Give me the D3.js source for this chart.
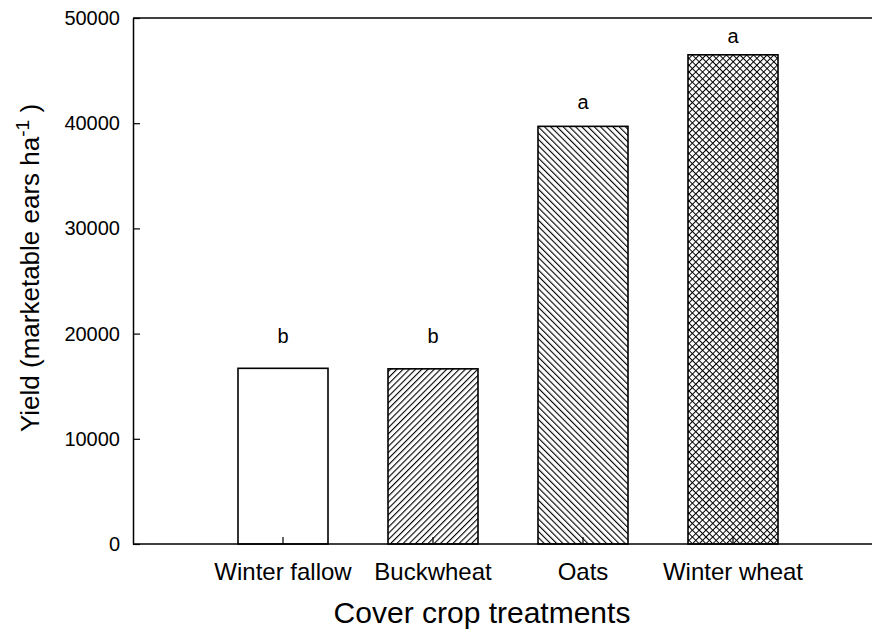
<!DOCTYPE html>
<html>
<head>
<meta charset="utf-8">
<script src="https://cdn.jsdelivr.net/npm/d3@7"></script>
<style>
  body { margin: 0; background: #fff; }
  svg text { font-family: "Liberation Sans", Arial, sans-serif; fill: #000; }
</style>
</head>
<body>
<div id="chart"></div>
<script>
// data
var categories = ['Winter fallow', 'Buckwheat', 'Oats', 'Winter wheat'];
var yieldValues = [16700, 16650, 39700, 46500];
var letters = ['b', 'b', 'a', 'a'];
var letterAt = [19100, 19100, 41350, 47650]; // baseline of the letter, in yield units
var fills = ['none', 'fwd', 'back', 'cross'];
var yTicks = [0, 10000, 20000, 30000, 40000, 50000];

var W = 872, H = 634;
var plotL = 133, plotT = 18, plotB = 544, plotR = 872;

var svg = d3.select('#chart').append('svg')
  .attr('width', W).attr('height', H);

// hatch patterns
var defs = svg.append('defs');
function hatch(id, angle) {
  var s = 4.4;
  var p = defs.append('pattern')
    .attr('id', id)
    .attr('patternUnits', 'userSpaceOnUse')
    .attr('width', s).attr('height', s)
    .attr('patternTransform', 'rotate(' + angle + ')');
  p.append('rect').attr('width', s).attr('height', s).attr('fill', '#fff');
  p.append('line')
    .attr('x1', 0).attr('y1', 0).attr('x2', 0).attr('y2', s)
    .attr('stroke', '#000').attr('stroke-width', 2.2);
}
hatch('fwd', 45);
hatch('back', -45);
var cs = 4.8;
var cp = defs.append('pattern')
  .attr('id', 'cross')
  .attr('patternUnits', 'userSpaceOnUse')
  .attr('width', cs).attr('height', cs)
  .attr('patternTransform', 'rotate(45)');
cp.append('rect').attr('width', cs).attr('height', cs).attr('fill', '#fff');
cp.append('line').attr('x1', 0).attr('y1', 0).attr('x2', 0).attr('y2', cs)
  .attr('stroke', '#000').attr('stroke-width', 2);
cp.append('line').attr('x1', 0).attr('y1', 0).attr('x2', cs).attr('y2', 0)
  .attr('stroke', '#000').attr('stroke-width', 2);

var x = d3.scaleBand()
  .domain(categories)
  .range([208, 808])
  .paddingInner(0.4)
  .paddingOuter(0.2);

var y = d3.scaleLinear().domain([0, 50000]).range([plotB, plotT]);

// bars
svg.selectAll('.bar')
  .data(categories)
  .enter().append('rect')
  .attr('class', 'bar')
  .attr('x', function(d) { return x(d); })
  .attr('y', function(d, i) { return y(yieldValues[i]); })
  .attr('width', x.bandwidth())
  .attr('height', function(d, i) { return y(0) - y(yieldValues[i]); })
  .attr('fill', function(d, i) { return fills[i] == 'none' ? '#fff' : 'url(#' + fills[i] + ')'; })
  .attr('stroke', '#000')
  .attr('stroke-width', 1.6);

// significance letters
svg.selectAll('.lett')
  .data(categories)
  .enter().append('text')
  .attr('class', 'lett')
  .attr('x', function(d) { return x(d) + x.bandwidth() / 2; })
  .attr('y', function(d, i) { return y(letterAt[i]); })
  .attr('text-anchor', 'middle')
  .style('font-size', '20px')
  .text(function(d, i) { return letters[i]; });

// y axis
var yAxis = svg.append('g')
  .attr('transform', 'translate(' + plotL + ',0)')
  .call(d3.axisLeft(y).tickValues(yTicks).tickFormat(d3.format('d'))
    .tickSizeInner(-7).tickSizeOuter(0).tickPadding(13));
yAxis.selectAll('text').style('font-size', '20px');

// x axis
var xAxis = svg.append('g')
  .attr('transform', 'translate(0,' + plotB + ')')
  .call(d3.axisBottom(x).tickSizeInner(-7).tickSizeOuter(0).tickPadding(19));
xAxis.select('.domain').remove();
xAxis.selectAll('text').style('font-size', '24px');

svg.append('line')
  .attr('x1', plotL).attr('x2', plotR).attr('y1', plotB).attr('y2', plotB)
  .attr('stroke', '#000').attr('stroke-width', 1.5);
svg.append('line')
  .attr('x1', plotL).attr('x2', plotR).attr('y1', plotT).attr('y2', plotT)
  .attr('stroke', '#000').attr('stroke-width', 1.5);
yAxis.select('.domain').attr('stroke-width', 1.5);
svg.selectAll('.tick line').attr('stroke-width', 1.2);

// titles
svg.append('text')
  .attr('x', 482).attr('y', 623)
  .attr('text-anchor', 'middle')
  .style('font-size', '30px')
  .text('Cover crop treatments');

var yt = svg.append('text')
  .attr('transform', 'translate(39,268) rotate(-90)')
  .attr('text-anchor', 'middle')
  .style('font-size', '26px');
yt.append('tspan').text('Yield (marketable ears ha');
yt.append('tspan').attr('dy', -10).style('font-size', '19px').text('-1');
yt.append('tspan').attr('dy', 10).text(' )');
</script>
</body>
</html>
